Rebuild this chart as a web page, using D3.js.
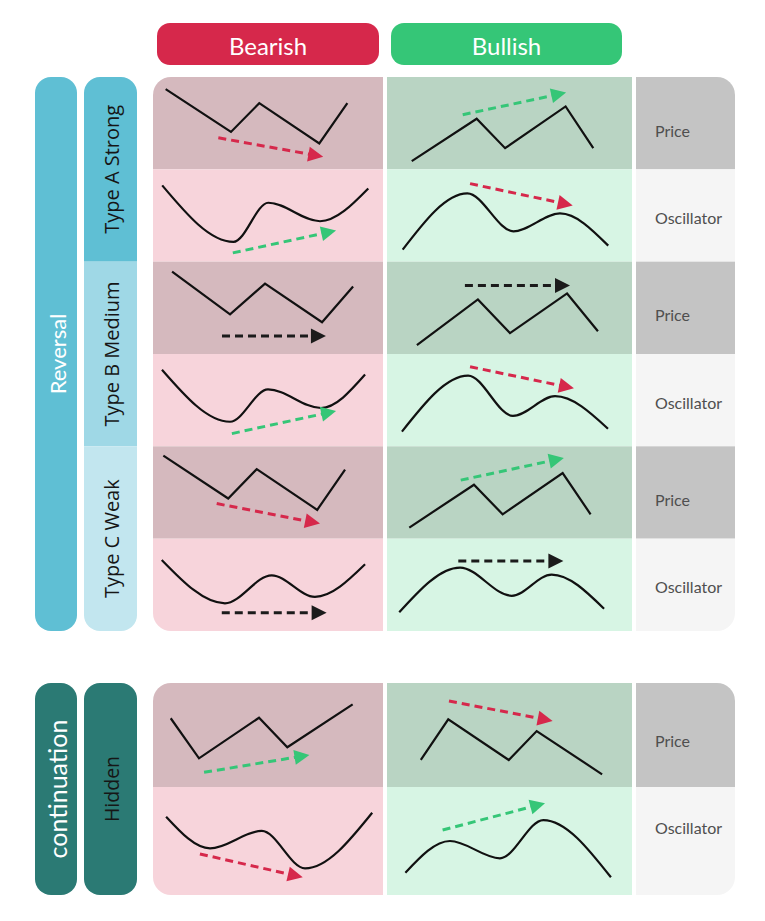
<!DOCTYPE html>
<html><head><meta charset="utf-8">
<script src="https://cdn.jsdelivr.net/npm/d3@7"></script>
<style>html,body{margin:0;padding:0;background:#fff;}svg{display:block;}</style>
</head><body>
<svg id="chart" width="765" height="921"></svg>
<script>
// ---------- data ----------
const columns = ["Bearish", "Bullish"];
const rowLabels = ["Price", "Oscillator"];
const reversalTypes = ["Type A Strong", "Type B Medium", "Type C Weak"];
const continuationTypes = ["Hidden"];
const groupLabels = ["Reversal", "continuation"];

// shapes: points in % of cell (x: 0-100 across, y: 0-100 down), order A, B, C, Hidden
const bearishPrice = [
  [[5.5,13.2],[33.9,59.5],[46.2,28.3],[72.3,72],[84.5,28.3]],
  [[8.3,10.8],[33.5,57],[48.7,23.7],[73.5,65.6],[87,26.9]],
  [[4.5,10.1],[32.7,56.5],[45.1,24.7],[71.4,68.8],[83.5,25.3]],
  [[7.7,33.9],[20,72.4],[46.1,33.4],[58.4,61.8],[86.8,20.5]]
];
const bearishOsc = [
  [[4,17.4],[35,78.6],[50.1,36.2],[72.6,56.2],[93.6,20.7]],
  [[3.9,17],[33.5,73.4],[50,38.3],[73,58.5],[92.2,22.3]],
  [[3.8,23],[31.3,70],[51.6,39.7],[70.4,63],[92.2,27.8]],
  [[5.7,27.5],[24.8,56.8],[47.3,40.7],[66.1,75.3],[95.3,23.8]]
];
const bullishPrice = [
  [[10.1,91.1],[36.6,45.2],[48.2,77.1],[72.9,31.9],[84.2,77.1]],
  [[12.2,90.3],[37.1,40.9],[50.2,77.4],[73.5,34.4],[86.1,75.3]],
  [[9.1,88],[35.5,41.6],[47.2,73.6],[71.7,29],[83.1,73.6]],
  [[13.8,74],[25,34.9],[49.7,74],[61.1,46.2],[87.8,87.8]]
];
const bullishOsc = [
  [[6.4,87],[32.8,26.1],[51.6,67.1],[70.6,47.8],[90.3,82.6]],
  [[6.1,84],[33.1,23.4],[51.4,67],[68.6,45.7],[90.2,80.9]],
  [[5,79.7],[29.8,31.4],[50.9,61.9],[67.2,38.9],[88.6,75.9]],
  [[7.5,79.4],[25.7,50],[46.1,66],[63.8,30.6],[91.4,83.6]]
];
// arrows [from, to] in % of cell
const bearishPriceArrows = [
  [[28.4,65.9],[74,86.3]], [[30,80.6],[75.2,80.6]], [[27.7,62],[72.6,83.7]], [[22.2,85.9],[68,69.2]]
];
const bearishOscArrows = [
  [[34.7,90.5],[79.6,66.3]], [[34.3,86.2],[79.6,61.7]], [[29.9,80.3],[75.5,80.3]], [[20.4,62],[65.1,83.6]]
];
const bullishPriceArrows = [
  [[30.9,40.9],[73.1,16.9]], [[31.8,25.8],[74.7,25.8]], [[30.1,36.6],[72.2,12.7]], [[25.3,17.3],[67.6,36.5]]
];
const bullishOscArrows = [
  [[33.9,15.5],[75.8,39.1]], [[33.9,13.8],[76.3,37.2]], [[29.1,24.1],[72,24.1]], [[22.7,39.8],[64.5,15.1]]
];

// ---------- layout ----------
const svg = d3.select("#chart");
const defs = svg.append("defs");
const C = {
  red: "#d6284b", green: "#35c677", black: "#1b1b1b",
  bearPrice: "#d5b9be", bearOsc: "#f7d4db",
  bullPrice: "#b9d4c3", bullOsc: "#d7f5e4",
  labPrice: "#c4c4c4", labOsc: "#f5f5f5",
  rev: "#5fbfd4", typeA: "#5fbfd4", typeB: "#9fd8e6", typeC: "#c2e6ef",
  cont: "#2b7a74"
};
const colX = [{x:153,w:230},{x:387,w:245}];
const labCol = {x:636,w:99};

// headers
const headerBoxes = [{x:157,w:222,c:C.red},{x:391,w:231,c:C.green}];
columns.forEach((name,i)=>{
  const b = headerBoxes[i];
  svg.append("rect").attr("x",b.x).attr("y",23).attr("width",b.w).attr("height",42)
    .attr("rx",13).attr("fill",b.c);
  svg.append("text").attr("x",b.x+b.w/2).attr("y",45).attr("text-anchor","middle")
    .attr("dominant-baseline","central").attr("fill","#fff")
    .style("font-family","Lato, sans-serif").style("font-size","24px").text(name);
});

const line = d3.line().curve(d3.curveLinear);
const curve = d3.line().curve(d3.curveMonotoneX);

function arrow(g, sx, sy, seg){
  const [a,b] = seg;
  const x1=sx(a[0]), y1=sy(a[1]), x2=sx(b[0]), y2=sy(b[1]);
  const dy = b[1]-a[1];
  const col = Math.abs(dy) < 0.5 ? C.black : (dy > 0 ? C.red : C.green);
  const L = Math.hypot(x2-x1,y2-y1), ux=(x2-x1)/L, uy=(y2-y1)/L;
  const hl=15, hw=7.5;
  g.append("line").attr("x1",x1).attr("y1",y1).attr("x2",x2-ux*hl*0.8).attr("y2",y2-uy*hl*0.8)
    .attr("stroke",col).attr("stroke-width",3).attr("stroke-dasharray","8,5");
  const bx=x2-ux*hl, by=y2-uy*hl;
  g.append("path").attr("d",`M${x2},${y2}L${bx-uy*hw},${by+ux*hw}L${bx+uy*hw},${by-ux*hw}Z`)
    .attr("fill",col);
}

function drawCell(g, cx, cw, cy, ch, fill, pts, isCurve, arr){
  g.append("rect").attr("x",cx).attr("y",cy).attr("width",cw).attr("height",ch).attr("fill",fill);
  const sx = d3.scaleLinear([0,100],[cx,cx+cw]);
  const sy = d3.scaleLinear([0,100],[cy,cy+ch]);
  const gen = (isCurve?curve:line).x(d=>sx(d[0])).y(d=>sy(d[1]));
  g.append("path").attr("d",gen(pts)).attr("fill","none").attr("stroke","#111")
    .attr("stroke-width",2.2).attr("stroke-linejoin","miter");
  arrow(g, sx, sy, arr);
}

let clipId = 0;
function clipRect(x,y,w,h,r){
  const id = "clip"+(clipId++);
  defs.append("clipPath").attr("id",id).append("rect")
    .attr("x",x).attr("y",y).attr("width",w).attr("height",h).attr("rx",r);
  return `url(#${id})`;
}

function vtext(g, x, y, txt, size, color, family){
  g.append("text").attr("transform",`translate(${x},${y}) rotate(-90)`)
    .attr("text-anchor","middle").attr("dominant-baseline","central")
    .attr("fill",color).style("font-family",family).style("font-size",size+"px").text(txt);
}

function section(top, rowYs, types, typeColors, groupName, groupColor, groupSize, typeSize, labOffsets, idxOffset){
  const bottom = rowYs[rowYs.length-1];
  const H = bottom - top;
  // group bar
  svg.append("rect").attr("x",35).attr("y",top).attr("width",42).attr("height",H)
    .attr("rx",16).attr("fill",groupColor);
  vtext(svg, 57, top+H/2, groupName, groupSize, "#fff", "Lato, sans-serif");
  // type column
  const tg = svg.append("g").attr("clip-path", clipRect(84,top,53,H,16));
  types.forEach((t,i)=>{
    const y0 = rowYs[i*2], y1 = rowYs[i*2+2];
    tg.append("rect").attr("x",84).attr("y",y0).attr("width",53).attr("height",y1-y0).attr("fill",typeColors[i]);
    vtext(tg, 111, (y0+y1)/2, t, typeSize, "#161616", "'Open Sans', sans-serif");
  });
  // grid
  const gg = svg.append("g").attr("clip-path", clipRect(153,top,582,H,18));
  types.forEach((t,i)=>{
    const k = i + idxOffset;
    const yP = rowYs[i*2], yO = rowYs[i*2+1], yE = rowYs[i*2+2];
    drawCell(gg, colX[0].x, colX[0].w, yP, yO-yP, C.bearPrice, bearishPrice[k], false, bearishPriceArrows[k]);
    drawCell(gg, colX[0].x, colX[0].w, yO, yE-yO, C.bearOsc, bearishOsc[k], true, bearishOscArrows[k]);
    drawCell(gg, colX[1].x, colX[1].w, yP, yO-yP, C.bullPrice, bullishPrice[k], false, bullishPriceArrows[k]);
    drawCell(gg, colX[1].x, colX[1].w, yO, yE-yO, C.bullOsc, bullishOsc[k], true, bullishOscArrows[k]);
    [[yP,yO,C.labPrice,rowLabels[0],labOffsets[0]],[yO,yE,C.labOsc,rowLabels[1],labOffsets[1]]].forEach(([a,b,f,lab,off])=>{
      gg.append("rect").attr("x",labCol.x).attr("y",a).attr("width",labCol.w).attr("height",b-a).attr("fill",f);
      gg.append("text").attr("x",655).attr("y",(a+b)/2+off).attr("dominant-baseline","central")
        .attr("fill","#4f4f4f").style("font-family","Lato, sans-serif")
        .style("font-size","16px").text(lab);
    });
  });
}

const revRows = d3.range(7).map(i => 77 + i*(631-77)/6);
section(77, revRows, reversalTypes, [C.typeA,C.typeB,C.typeC], groupLabels[0], C.rev, 22, 20, [7,2], 0);
section(683, [683,787,895], continuationTypes, [C.cont], groupLabels[1], C.cont, 25, 19.5, [5,-14], 3);
</script>
</body></html>
